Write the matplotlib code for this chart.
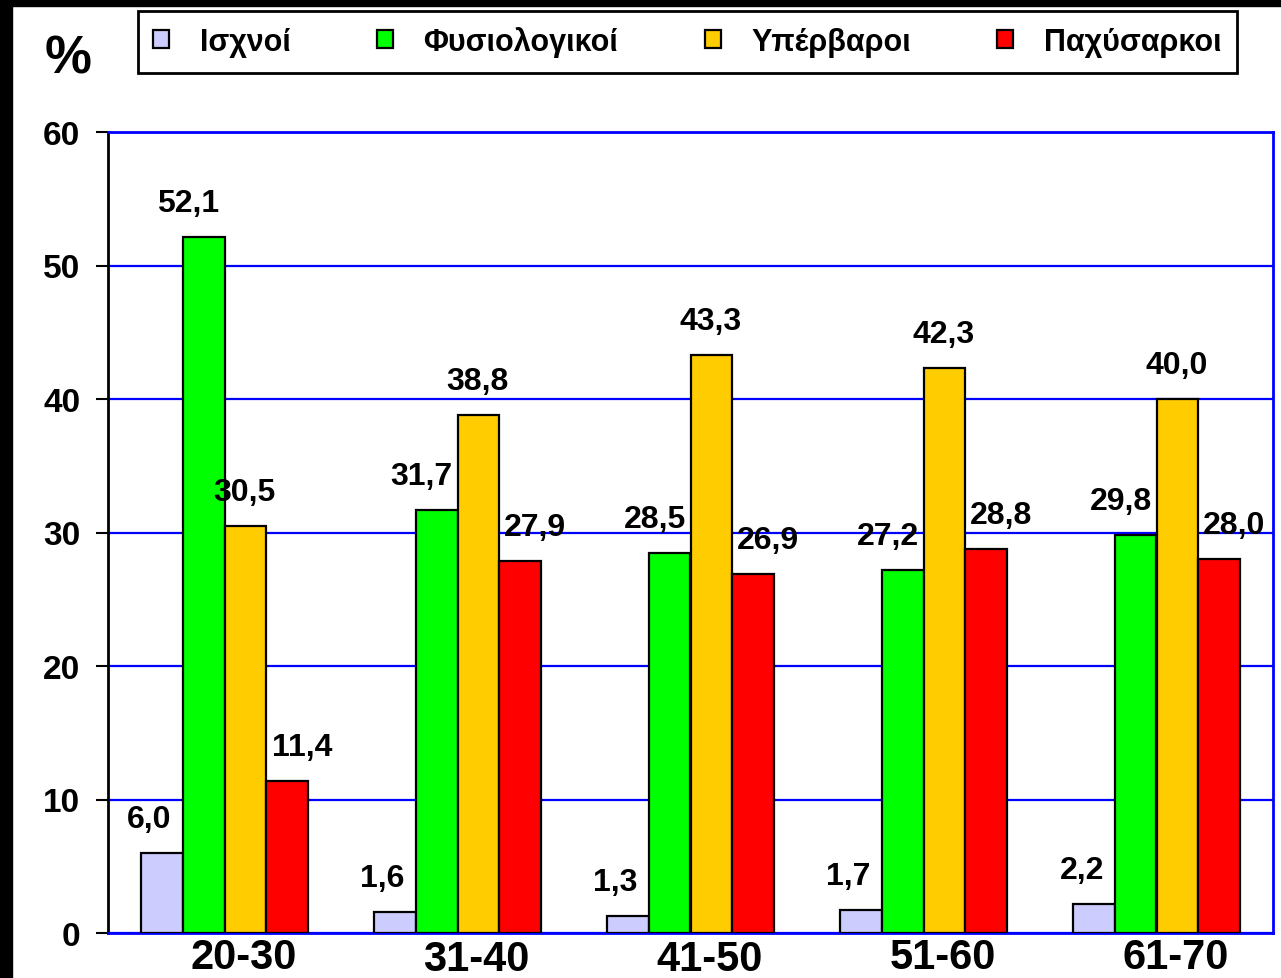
import matplotlib.pyplot as plt
import matplotlib.transforms as mtransforms
from matplotlib.patches import Rectangle
import numpy as np

plt.rcParams['font.family'] = ['Liberation Sans', 'DejaVu Sans']
plt.rcParams['font.weight'] = 'bold'

groups = ['20-30', '31-40', '41-50', '51-60', '61-70']
isxnoi = [6.0, 1.6, 1.3, 1.7, 2.2]
fysiologikoi = [52.1, 31.7, 28.5, 27.2, 29.8]
yperbaroi = [30.5, 38.8, 43.3, 42.3, 40.0]
paxysarkoi = [11.4, 27.9, 26.9, 28.8, 28.0]
series_names = ['Ισχνοί', 'Φυσιολογικοί', 'Υπέρβαροι', 'Παχύσαρκοι']

colors = ['#CCCCFF', '#00FF00', '#FFCC00', '#FF0000']
label_dx = [-12, -15, -1, 15]   # label nudge in pixels, per series

fig = plt.figure(figsize=(12.81, 9.79), dpi=100)
ax = fig.add_axes([108/1281, 45/979, 1165/1281, 801/979])

x = np.arange(len(groups))
w = 0.18
all_series = [isxnoi, fysiologikoi, yperbaroi, paxysarkoi]
for i, vals in enumerate(all_series):
    pos = x + (i - 1.5) * w
    ax.bar(pos, vals, width=w, color=colors[i], edgecolor='black',
           linewidth=1.6, label=series_names[i], zorder=3)
    for xp, v in zip(pos, vals):
        ax.annotate(f'{v:.1f}'.replace('.', ','), (xp, v),
                    xytext=(label_dx[i], 34), textcoords='offset pixels',
                    ha='center', va='center', fontsize=23, fontweight='bold')

ax.set_xlim(-0.5, 4.5)
ax.set_ylim(0, 60)
ax.set_yticks(range(0, 61, 10))
ax.set_xticks(x)
ax.set_xticklabels(groups, fontsize=30, fontweight='bold')
ax.tick_params(axis='x', length=0, pad=3)
ax.tick_params(axis='y', direction='out', length=9, width=1.5,
               labelsize=24, pad=11)
# the category labels sit a little right of the group centres
for k, lab in enumerate(ax.get_xticklabels()):
    dy = -2 if k in (1, 2) else 0
    shift = mtransforms.ScaledTranslation(19/100, dy/100, fig.dpi_scale_trans)
    lab.set_transform(lab.get_transform() + shift)

ax.yaxis.grid(True, color='#0000FF', linewidth=1.6, zorder=0)
ax.set_axisbelow(True)
for s in ['top', 'right', 'bottom']:
    ax.spines[s].set_color('#0000FF')
    ax.spines[s].set_linewidth(2)
ax.spines['left'].set_color('black')
ax.spines['left'].set_linewidth(2)

fig.text(68/1281, 1 - 59/979, '%', fontsize=38, fontweight='bold',
         ha='center', va='center')

leg = fig.legend(loc='upper left', ncol=4,
                 bbox_to_anchor=(138/1281, 1 - 12/979),
                 fontsize=22, handlelength=0.52, handleheight=0.52,
                 handletextpad=1.0, columnspacing=2.83, borderpad=0.5,
                 borderaxespad=0, fancybox=False,
                 edgecolor='black', framealpha=1)
leg.get_frame().set_linewidth(2)
for t in leg.get_texts():
    t.set_fontweight('bold')

# black strips along the left and top edge
fig.patches.append(Rectangle((0, 0), 12/1281, 1, transform=fig.transFigure,
                             color='black', zorder=10))
fig.patches.append(Rectangle((0, 1 - 7/979), 1, 7/979,
                             transform=fig.transFigure, color='black', zorder=10))

fig.savefig('out.png', dpi=100)
